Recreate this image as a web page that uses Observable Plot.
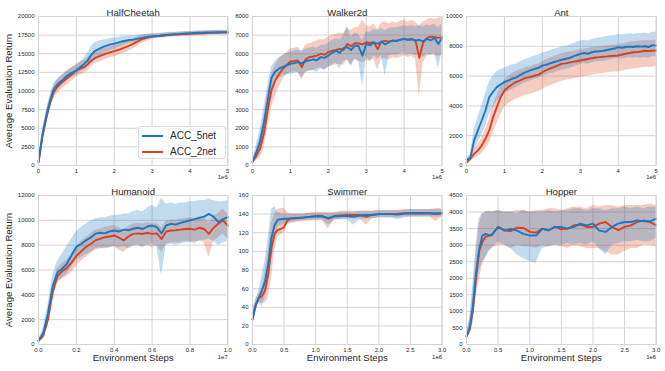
<!DOCTYPE html>
<html><head><meta charset="utf-8">
<script src="https://cdn.jsdelivr.net/npm/d3@7"></script>
<script src="https://cdn.jsdelivr.net/npm/@observablehq/plot@0.6"></script>
<style>
body{margin:0;background:#fff;}
#chart{position:relative;width:665px;height:371px;background:#fff;font-family:"Liberation Sans",Arial,sans-serif;overflow:hidden}
#chart svg{position:absolute}
.legend{position:absolute;left:138px;top:126px;width:88px;height:33px;box-sizing:border-box;border:1px solid #dcdcdc;border-radius:3px;background:rgba(255,255,255,0.85);font-size:10px;color:#262626}
.legend .row{position:absolute;left:0;height:12px;line-height:12px}
.legend .sw{position:absolute;left:3px;top:5px;width:21px;height:2px}
.legend .lb{position:absolute;left:31px;top:0;white-space:nowrap}
</style></head><body><div id="chart"></div>
<script>
// ---------- series names ----------
const seriesNames = ["ACC_5net", "ACC_2net"];
const envTitles = ["HalfCheetah", "Walker2d", "Ant", "Humanoid", "Swimmer", "Hopper"];
const yLabel = "Average Evaluation Return";
const xLabel = "Environment Steps";

// ---------- x grids (environment steps, in units of the axis offset) ----------
const steps5M = [0,.1,.2,.3,.4,.5,.6,.7,.8,.9,1,1.1,1.2,1.3,1.4,1.5,1.6,1.7,1.8,1.9,2,2.1,2.2,2.3,2.4,2.5,2.6,2.7,2.8,2.9,3,3.1,3.2,3.3,3.4,3.5,3.6,3.7,3.8,3.9,4,4.1,4.2,4.3,4.4,4.5,4.6,4.7,4.8,4.9,5];
const stepsHumanoid = [0,.025,.05,.075,.1,.125,.15,.175,.2,.225,.25,.275,.3,.325,.35,.375,.4,.425,.45,.475,.5,.525,.55,.575,.6,.625,.65,.675,.7,.725,.75,.775,.8,.825,.85,.875,.9,.925,.95,.975,1];
const stepsSwimmer = [0,.05,.1,.15,.2,.25,.3,.35,.4,.45,.5,.55,.6,.7,.8,.9,1,1.1,1.2,1.3,1.4,1.5,1.6,1.7,1.8,1.9,2,2.1,2.2,2.3,2.4,2.5,2.6,2.7,2.8,2.9,3];
const stepsHopper = [0,.05,.1,.15,.2,.25,.3,.35,.4,.5,.6,.7,.8,.9,1,1.1,1.2,1.3,1.4,1.5,1.6,1.7,1.8,1.9,2,2.1,2.2,2.3,2.4,2.5,2.6,2.7,2.8,2.9,3];

// ---------- HalfCheetah ----------
const hcB   = [500,4000,6500,8600,10200,10900,11300,11800,12200,12500,12750,13200,13600,14100,14900,15400,15650,15900,16100,16250,16350,16500,16650,16750,16850,16900,17000,17100,17200,17280,17330,17380,17420,17480,17540,17580,17620,17650,17700,17730,17760,17790,17810,17830,17850,17860,17870,17880,17890,17900,17900];
const hcBLo = [300,3400,5800,7900,9500,10200,10600,11100,11500,11800,12100,12500,12800,13200,13900,14300,14600,14900,15200,15400,15600,15800,16000,16200,16400,16500,16650,16800,16900,17000,17050,17100,17150,17200,17250,17300,17350,17400,17450,17480,17500,17530,17550,17570,17590,17600,17610,17620,17630,17640,17650];
const hcBHi = [700,4600,7200,9300,10900,11600,12000,12500,12900,13200,13400,13900,14400,15100,16000,16500,16700,16850,16950,17050,17100,17200,17300,17350,17400,17400,17450,17500,17550,17600,17620,17650,17700,17750,17800,17830,17860,17880,17920,17950,17980,18000,18020,18040,18060,18080,18100,18110,18120,18130,18150];
const hcR   = [400,3700,6200,8300,9800,10600,11100,11500,11900,12300,12750,13000,13200,13600,14100,14450,14650,14850,15050,15200,15350,15500,15700,15900,16100,16330,16600,16870,17050,17200,17300,17350,17400,17450,17500,17540,17570,17600,17630,17650,17670,17700,17720,17740,17760,17800,17810,17820,17830,17840,17850];
const hcRLo = [200,2900,5300,7400,8900,9700,10200,10600,11000,11400,11900,12100,12300,12700,13300,13700,13900,14100,14300,14450,14600,14750,14950,15150,15400,15650,15950,16300,16550,16750,16900,17000,17050,17100,17150,17200,17250,17280,17300,17320,17350,17380,17400,17420,17440,17480,17490,17500,17510,17520,17530];
const hcRHi = [600,4500,7100,9200,10700,11500,12000,12400,12800,13200,13600,13900,14100,14500,14900,15200,15400,15600,15800,15950,16100,16250,16450,16650,16850,17000,17250,17450,17550,17650,17700,17720,17750,17800,17850,17880,17900,17920,17950,17970,17990,18020,18040,18060,18080,18120,18130,18140,18150,18160,18170];

// ---------- Walker2d ----------
const wB   = [200,700,1300,2300,3500,4700,5050,5200,5300,5380,5460,5500,5550,5480,5600,5640,5700,5650,5820,5780,5900,6050,6170,6050,6300,6350,6200,6440,6400,5900,6530,6450,6600,6530,6650,6500,6620,6700,6680,6750,6800,6750,6780,6700,6750,6660,6800,6720,6850,6530,6850];
const wBLo = [100,400,800,1600,2700,3900,4500,4700,4800,4850,4900,4950,5000,4700,5000,5050,5100,5000,5200,5100,5250,5400,5500,5200,5600,5650,5300,5700,5600,4200,5800,5600,5900,5700,5900,4800,5900,5950,5900,6000,6050,5950,6000,5900,5950,5800,6000,5900,6050,5200,6100];
const wBHi = [300,1100,1900,3100,4300,5300,5600,5800,5900,6000,6100,6150,6200,6150,6250,6300,6350,6300,6450,6450,6550,6700,6800,6750,6950,7500,6900,7100,7050,6700,7200,7150,7300,7250,7350,7250,7350,7400,7400,7450,7500,7450,7500,7450,7500,7450,7550,7500,7600,7400,7600];
const wR   = [200,500,900,1700,2950,4030,4560,4900,5190,5400,5580,5620,5640,5280,5700,5820,5850,5900,6000,5950,6090,6150,6200,6260,6200,6530,6400,6570,6550,6500,6620,6580,6620,6250,6650,6690,6650,6720,6700,6750,6800,6750,6780,6700,5780,6600,6850,6920,6900,6850,6890];
const wRLo = [100,250,400,900,2000,3100,3700,4200,4600,4900,5000,5050,5000,4600,5000,5100,5100,5200,5250,5150,5300,5350,5400,5450,5350,5700,5400,5700,5600,5500,5650,5600,5700,5100,5700,5750,5650,5800,5750,5800,5900,5800,5850,5700,3700,5500,5850,5950,5900,5850,5900];
const wRHi = [300,800,1500,2600,3900,4900,5400,5700,5900,6050,6250,6300,6350,6100,6450,6550,6600,6700,6750,6750,6900,7000,7050,7100,7100,7350,7250,7400,7450,7800,7500,7450,7600,7300,7650,7700,7600,7700,7650,7750,7800,7700,7800,7700,7500,7700,7800,7900,7850,7900,7950];

// ---------- Ant ----------
const aB   = [400,500,1680,2350,3020,3690,4590,4950,5260,5450,5590,5700,5820,5900,6050,6200,6300,6400,6490,6550,6710,6750,6850,6930,7000,7090,7150,7200,7300,7400,7490,7550,7500,7600,7650,7670,7700,7750,7800,7850,7940,7900,7950,7980,7950,8000,7980,8000,7950,8080,8050];
const aBLo = [250,300,1000,1500,2000,2600,3400,3900,4300,4600,4800,4950,5100,5200,5350,5500,5600,5700,5800,5850,6000,6050,6150,6200,6300,6400,6450,6500,6600,6700,6800,6850,6800,6900,6950,6980,7000,7050,7100,7150,7200,7150,7200,7250,7200,7250,7200,7250,7200,7300,7300];
const aBHi = [550,700,2400,3200,4000,4800,5600,6000,6300,6450,6550,6650,6750,6800,6950,7050,7150,7250,7350,7400,7550,7600,7700,7800,7850,7950,8000,8050,8150,8250,8350,8400,8350,8450,8500,8550,8600,8650,8700,8700,8800,8750,8800,8850,8800,8850,8850,8900,8850,8950,8950];
const aR   = [200,450,780,1000,1340,1790,2350,3240,3920,4590,5030,5250,5440,5600,5700,5820,5900,5950,6040,6100,6260,6400,6500,6600,6700,6820,6850,6900,6950,7000,7050,7100,7150,7200,7250,7270,7300,7320,7350,7370,7380,7450,7500,7550,7600,7610,7650,7700,7680,7700,7720];
const aRLo = [100,250,450,600,800,1100,1500,2200,2800,3400,3900,4150,4300,4450,4550,4650,4750,4800,4900,4950,5100,5250,5350,5450,5550,5650,5700,5750,5800,5850,5900,5950,6000,6050,6100,6150,6180,6200,6250,6270,6280,6350,6400,6450,6500,6500,6550,6600,6580,6600,6620];
const aRHi = [300,650,1100,1400,1800,2400,3100,4000,4700,5300,5700,5950,6150,6300,6400,6500,6600,6650,6750,6800,6950,7100,7200,7300,7400,7500,7550,7600,7650,7700,7750,7800,7850,7900,7950,7970,8000,8020,8050,8070,8080,8150,8200,8250,8300,8310,8350,8400,8380,8400,8420];

// ---------- Humanoid ----------
const huB   = [300,900,2500,4700,5800,6100,6500,7200,7850,8100,8380,8600,8910,9000,8950,9100,9180,9100,9250,9200,9320,9400,9300,9500,9580,9450,8950,9600,9720,9650,9800,9900,9990,10100,10200,10300,10520,10300,9850,10100,10250];
const huBLo = [200,600,1900,4000,5100,5300,5700,6200,6800,7000,7200,7400,7700,7800,7700,7800,7900,7800,7900,7700,7900,8000,7800,8000,8100,7900,5500,8000,8100,8000,8100,8200,8200,8300,8300,8400,8500,8300,8000,8200,8300];
const huBHi = [400,1300,3200,5600,6700,7300,7900,8500,9100,9400,9700,9950,10100,10200,10200,10300,10400,10400,10500,10500,10700,10800,10700,11000,11200,11000,11800,11300,11400,11300,11400,11400,11500,11500,11600,11600,11700,11600,11500,11500,11600];
const huR   = [300,700,2000,4200,5500,5900,6170,6600,7130,7500,7850,8100,8380,8500,8640,8700,8780,8600,8380,8700,8910,8950,8900,9000,8910,8950,8500,9100,9180,9200,9250,9300,9320,9250,9400,9300,8910,9400,9720,10000,9580];
const huRLo = [150,400,1500,3600,4900,5300,5500,5800,6300,6700,7000,7300,7600,7700,7800,7800,7900,7600,7400,7800,8000,8000,7900,8000,7800,8000,7400,8100,8200,8200,8200,8300,8300,8100,8400,8200,7000,8300,8600,8900,8500];
const huRHi = [450,1000,2500,4800,6100,6500,6800,7300,7900,8300,8600,8900,9200,9300,9450,9500,9600,9400,9200,9500,9700,9750,9700,9800,9700,9750,9400,9900,10000,10000,10100,10150,10200,10100,10300,10200,9800,10300,10600,10900,10500];

// ---------- Swimmer ----------
const swB   = [27,42,50,58,68,87,115,128,134,134.5,135,135,135.5,136,136.5,137,137.5,137.5,136,137.5,138,138,137,138.5,139,139,140,140,140,139.5,140.5,141,141,141,141,141,141];
const swBLo = [18,35,45,40,50,65,90,110,126,128,129,130,131,132,133,133,134,134,128,134,134,134,128,134,135,135,136,136,136,134,136,137,137,137,137,137,137];
const swBHi = [35,48,56,75,90,115,145,148,142,141,140,140,140,140,140,141,141,141,141,141,142,142,142,143,143,143,144,144,144,144,144,145,145,145,145,145,145];
const swR   = [27,42,50,52,58,76,104,119,123,124,126,133,135,135.5,136,137,138,138,135,138,138.5,139,139,139,137,139.5,140,140,140,140.5,141,141,141,141,141,140,141];
const swRLo = [20,36,45,44,45,50,70,100,115,118,120,128,130,131,132,133,133,133,124,134,134,135,135,135,128,135,136,136,136,136,137,137,137,137,137,132,137];
const swRHi = [34,48,55,60,78,100,130,140,145,146,146,142,140,140,140,141,142,142,142,142,143,143,143,143,143,143,144,144,144,144,145,145,145,145,145,146,146];

// ---------- Hopper ----------
const hoB   = [250,500,1130,2140,2870,3290,3340,3300,3320,3550,3440,3490,3440,3340,3290,3290,3490,3450,3550,3550,3500,3550,3650,3600,3650,3440,3400,3550,3650,3700,3700,3750,3720,3720,3800];
const hoBLo = [150,300,700,1600,2200,2500,2600,2800,2900,3100,3000,2900,2700,2600,2500,2450,2900,2950,3000,3000,3050,3000,3050,3000,3100,2900,2700,3000,3050,3100,3100,3150,3100,3100,3200];
const hoBHi = [350,800,1800,3000,3800,3950,4000,4000,4000,4050,4000,4000,3950,4050,4000,4000,4000,4050,4000,4050,4050,4100,4100,4050,4100,4100,4050,4100,4100,4150,4100,4150,4100,4150,4150];
const hoR   = [250,450,1000,2000,2800,3100,3250,3280,3300,3550,3450,3420,3530,3520,3400,3380,3500,3450,3560,3480,3500,3600,3620,3550,3550,3650,3700,3550,3450,3550,3600,3700,3750,3700,3600];
const hoRLo = [150,300,600,1400,1900,2400,2600,2800,2900,3000,3000,2900,3000,2950,2950,2900,3000,2950,3000,2950,2900,3000,2950,2900,2900,2900,2800,2700,2700,2800,2900,2900,3000,3000,2950];
const hoRHi = [350,700,1500,2700,3600,3950,4000,4050,4000,4050,4000,4000,4050,4050,4000,4050,4050,4100,4100,4050,4100,4150,4150,4100,4200,4150,4200,4200,4150,4200,4200,4200,4200,4250,4200];

// ---------- tick values ----------
const ticks5M = [0,1,2,3,4,5];
const ticksHumanoidX = [0,0.2,0.4,0.6,0.8,1.0];
const ticks3M = [0,0.5,1,1.5,2,2.5,3];
const hcYTicks = [0,2500,5000,7500,10000,12500,15000,17500,20000];
const wYTicks = [0,1000,2000,3000,4000,5000,6000,7000,8000];
const aYTicks = [0,2000,4000,6000,8000,10000];
const huYTicks = [0,2000,4000,6000,8000,10000,12000];
const swYTicks = [0,20,40,60,80,100,120,140,160];
const hoYTicks = [0,500,1000,1500,2000,2500,3000,3500,4000,4500];
const offsetLabels = ["1e6","1e6","1e6","1e7","1e6","1e6"];

// ---------- drawing ----------
const BLUE = "#1a78c2", RED = "#d9411e", GRID = "#d4d4d4", INK = "#262626";
const FONT = '"Liberation Sans", Arial, sans-serif';
const chartEl = document.getElementById("chart");

function panel(o) {
  const rows = o.x.map((x, i) => ({x, b: o.b[i], bLo: o.bLo[i], bHi: o.bHi[i], r: o.r[i], rLo: o.rLo[i], rHi: o.rHi[i]}));
  const ML = 36, MR = 8, FH = 149;
  const W = (o.fx1 - o.fx0) + ML + MR;
  const H = o.mt + FH + o.mb;
  const marks = [
    Plot.gridX(o.xTicks, {stroke: GRID, strokeOpacity: 1, strokeWidth: 1}),
    Plot.gridY(o.yTicks, {stroke: GRID, strokeOpacity: 1, strokeWidth: 1}),
    Plot.areaY(rows, {x: "x", y1: "rLo", y2: "rHi", fill: RED, fillOpacity: 0.27}),
    Plot.areaY(rows, {x: "x", y1: "bLo", y2: "bHi", fill: BLUE, fillOpacity: 0.27}),
    Plot.line(rows, {x: "x", y: "r", stroke: RED, strokeWidth: 1.9}),
    Plot.line(rows, {x: "x", y: "b", stroke: BLUE, strokeWidth: 1.9}),
    Plot.frame({stroke: GRID, strokeWidth: 1}),
    Plot.axisX(o.xTicks, {tickSize: 0, tickPadding: 3, tickFormat: o.xFmt, fontSize: 6, fill: INK, label: null}),
    Plot.axisY(o.yTicks, {tickSize: 0, tickPadding: 4, tickFormat: d3.format("d"), fontSize: 6, fill: INK, label: null}),
    Plot.text([o.title], {text: d => d, frameAnchor: "top", textAnchor: "middle", dy: -7, fontSize: 9.6, fill: INK}),
    Plot.text([o.expo], {text: d => d, frameAnchor: "bottom-right", textAnchor: "end", dy: o.expoDy, fontSize: 6, fill: INK})
  ];
  if (o.ylab) marks.push(Plot.text([o.ylab], {text: d => d, frameAnchor: "left", textAnchor: "middle", rotate: -90, dx: -30, fontSize: 9.6, fill: INK}));
  if (o.xlab) marks.push(Plot.text([o.xlab], {text: d => d, frameAnchor: "bottom", textAnchor: "middle", dy: 17, fontSize: 9.6, fill: INK}));
  const svg = Plot.plot({
    width: W, height: H,
    marginLeft: ML, marginRight: MR, marginTop: o.mt, marginBottom: o.mb,
    x: {domain: o.xDomain},
    y: {domain: o.yDomain},
    style: {fontFamily: FONT, background: "transparent", color: INK, overflow: "visible"},
    marks
  });
  svg.style.left = (o.fx0 - ML) + "px";
  svg.style.top = o.rowTop + "px";
  chartEl.append(svg);
}

const cols = [[37.7, 227], [251.7, 441.3], [466.3, 656]];
const intFmt = d3.format("d"), decFmt = d3.format(".1f");
const rowA = {rowTop: 0, mt: 16, mb: 20, expoDy: 14};
const rowB = {rowTop: 180, mt: 15, mb: 27, expoDy: 15};

panel({...rowA, fx0: cols[0][0], fx1: cols[0][1], title: envTitles[0], expo: offsetLabels[0], ylab: yLabel,
  x: steps5M, b: hcB, bLo: hcBLo, bHi: hcBHi, r: hcR, rLo: hcRLo, rHi: hcRHi,
  xDomain: [0, 5], xTicks: ticks5M, xFmt: intFmt, yDomain: [0, 20000], yTicks: hcYTicks});
panel({...rowA, fx0: cols[1][0], fx1: cols[1][1], title: envTitles[1], expo: offsetLabels[1],
  x: steps5M, b: wB, bLo: wBLo, bHi: wBHi, r: wR, rLo: wRLo, rHi: wRHi,
  xDomain: [0, 5], xTicks: ticks5M, xFmt: intFmt, yDomain: [0, 8000], yTicks: wYTicks});
panel({...rowA, fx0: cols[2][0], fx1: cols[2][1], title: envTitles[2], expo: offsetLabels[2],
  x: steps5M, b: aB, bLo: aBLo, bHi: aBHi, r: aR, rLo: aRLo, rHi: aRHi,
  xDomain: [0, 5], xTicks: ticks5M, xFmt: intFmt, yDomain: [0, 10000], yTicks: aYTicks});
panel({...rowB, fx0: cols[0][0], fx1: cols[0][1], title: envTitles[3], expo: offsetLabels[3], ylab: yLabel, xlab: xLabel,
  x: stepsHumanoid, b: huB, bLo: huBLo, bHi: huBHi, r: huR, rLo: huRLo, rHi: huRHi,
  xDomain: [0, 1], xTicks: ticksHumanoidX, xFmt: decFmt, yDomain: [0, 12000], yTicks: huYTicks});
panel({...rowB, fx0: cols[1][0], fx1: cols[1][1], title: envTitles[4], expo: offsetLabels[4], xlab: xLabel,
  x: stepsSwimmer, b: swB, bLo: swBLo, bHi: swBHi, r: swR, rLo: swRLo, rHi: swRHi,
  xDomain: [0, 3], xTicks: ticks3M, xFmt: decFmt, yDomain: [0, 160], yTicks: swYTicks});
panel({...rowB, fx0: cols[2][0], fx1: cols[2][1], title: envTitles[5], expo: offsetLabels[5], xlab: xLabel,
  x: stepsHopper, b: hoB, bLo: hoBLo, bHi: hoBHi, r: hoR, rLo: hoRLo, rHi: hoRHi,
  xDomain: [0, 3], xTicks: ticks3M, xFmt: decFmt, yDomain: [0, 4500], yTicks: hoYTicks});

// legend (inside HalfCheetah panel)
const legend = document.createElement("div");
legend.className = "legend";
[BLUE, RED].forEach((c, i) => {
  const row = document.createElement("div");
  row.className = "row";
  row.style.top = (3 + i * 16) + "px";
  row.innerHTML = `<div class="sw" style="background:${c}"></div><div class="lb">${seriesNames[i]}</div>`;
  legend.append(row);
});
chartEl.append(legend);
</script></body></html>
